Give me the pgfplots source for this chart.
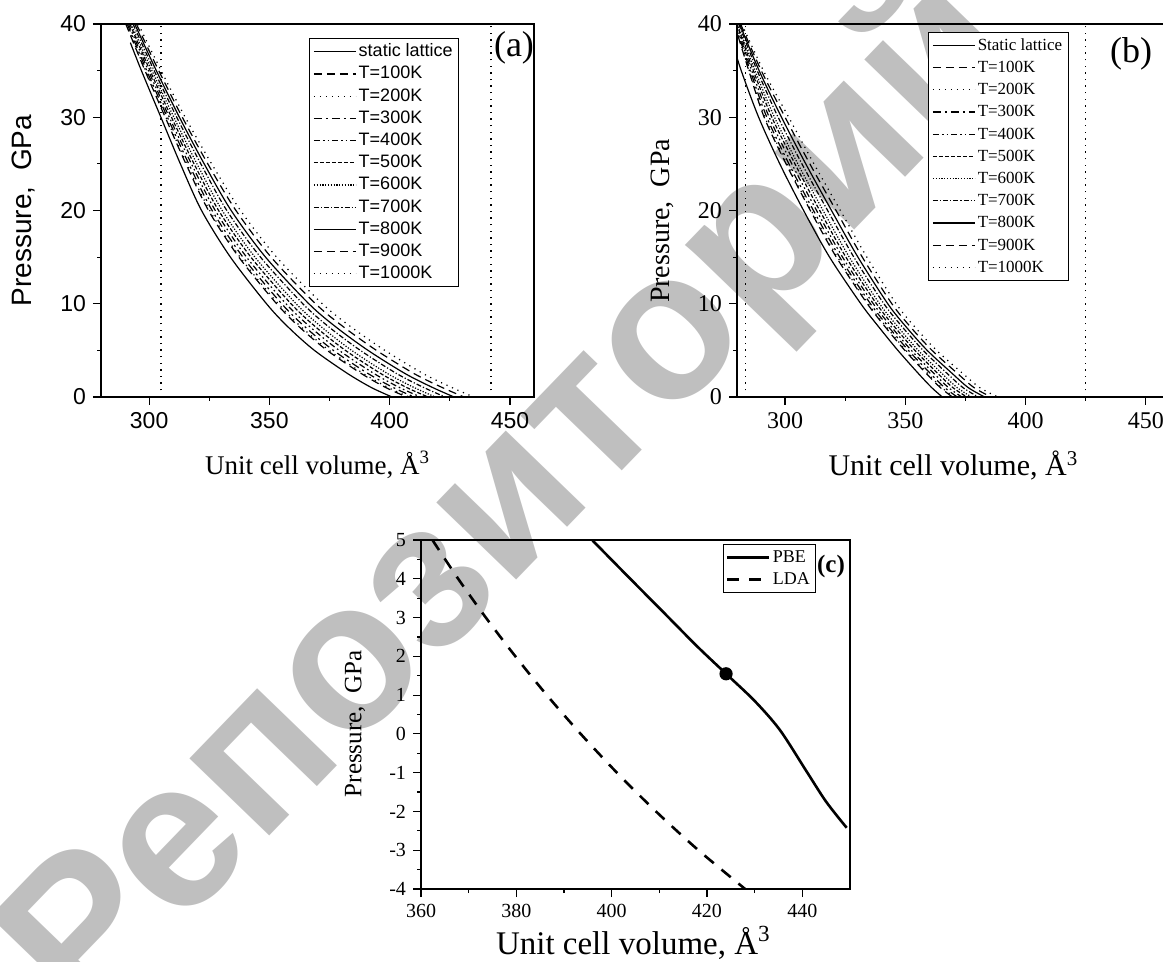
\documentclass[border=0pt]{standalone}
\usepackage{fontspec}
\setmainfont{Liberation Serif}
\newfontfamily\arial{Liberation Sans}
\usepackage{pgfplots}
\pgfplotsset{compat=1.18}
\usepackage{pgfplotstable}

% panel (a): volume of each isotherm at given pressure
\pgfplotstableread{
P   T1    T2    T3    T4    T5    T6    T7    T8    T9    T10
40  290.3 290.5 290.9 291.4 292.0 292.5 293.3 294.0 294.7 295.5
35  298.3 298.5 299.0 299.7 300.4 301.2 302.1 303.0 304.0 305.0
30  306.7 307.0 307.6 308.4 309.3 310.3 311.5 312.6 313.8 315.0
25  315.3 315.7 316.5 317.6 318.7 319.9 321.5 322.9 324.4 326.0
20  324.7 325.2 326.2 327.5 328.9 330.4 332.3 334.1 336.1 338.0
15  337.3 337.8 339.0 340.5 342.3 344.0 346.3 348.4 350.7 353.0
10  353.0 353.7 355.1 356.9 359.0 361.1 363.9 366.4 369.2 372.0
7.5 362.5 363.3 364.9 367.0 369.3 371.7 374.8 377.7 380.9 384.0
5   374.0 374.9 376.6 379.0 381.6 384.2 387.8 391.0 394.5 398.0
2.5 388.3 389.2 391.1 393.6 396.4 399.2 403.0 406.5 410.2 414.0
1   398.5 399.5 401.6 404.2 407.2 410.3 414.3 418.0 422.0 426.0
0   407.1 408.1 410.2 412.9 416.0 419.0 423.1 426.8 430.9 435.0
}\dataA

% panel (b)
\pgfplotstableread{
P   T1    T2    T3    T4    T5    T6    T7    T8    T9    T10
40  278.9 279.0 279.2 279.5 279.9 280.2 280.7 281.1 281.5 282.0
35  284.9 285.1 285.5 286.1 286.8 287.5 288.4 289.2 290.1 291.0
30  291.3 291.6 292.4 293.4 294.5 295.6 297.1 298.5 300.0 301.5
25  300.4 300.8 301.6 302.8 304.1 305.3 307.0 308.6 310.3 312.0
20  310.5 310.9 311.8 313.1 314.4 315.8 317.7 319.3 321.2 323.0
15  321.3 321.8 322.7 323.9 325.3 326.7 328.6 330.3 332.1 334.0
10  334.2 334.6 335.5 336.7 338.0 339.3 341.1 342.7 344.4 346.2
7.5 341.7 342.2 343.1 344.3 345.6 347.0 348.8 350.4 352.2 354.0
5   349.8 350.3 351.3 352.5 354.0 355.4 357.4 359.1 361.1 363.0
2.5 358.8 359.4 360.5 362.0 363.6 365.3 367.5 369.6 371.8 374.0
1   364.6 365.2 366.4 368.0 369.8 371.6 374.0 376.2 378.6 381.0
0   369.6 370.3 371.6 373.5 375.6 377.6 380.4 383.0 385.7 388.5
}\dataB

\tikzset{
  s0/.style={solid},
  s1/.style={dash pattern=on 4pt off 2.5pt},
  s2/.style={dash pattern=on 0.6pt off 2.4pt},
  s3/.style={dash pattern=on 4pt off 2pt on 1pt off 2pt},
  s4/.style={dash pattern=on 3pt off 1.5pt on 0.8pt off 1.5pt on 0.8pt off 1.5pt},
  s5/.style={dash pattern=on 2pt off 1pt},
  s6/.style={dash pattern=on 0.6pt off 0.8pt},
  s7/.style={dash pattern=on 2.5pt off 1pt on 0.6pt off 1pt},
  vdot/.style={dash pattern=on 0.7pt off 2.6pt, line width=0.8pt},
}

\pgfplotsset{
  evs/.style={
    scale only axis, anchor=south west,
    axis line style={line width=0.6pt},
    tick style={line width=0.6pt, black},
    tick align=outside, major tick length=4pt, minor tick length=2pt,
    xtick pos=left, ytick pos=left,
    minor x tick num=1, minor y tick num=1,
    /pgf/number format/assume math mode=true,
    legend cell align=left,
    legend image code/.code={\draw[##1] (0pt,0pt) -- (21pt,0pt);},
    every axis plot/.append style={line width=0.6pt, black},
    xlabel style={anchor=center},
    ylabel style={anchor=center},
  },
}

\begin{document}
\begin{tikzpicture}
\useasboundingbox (0pt,-481pt) rectangle (581.5pt,0pt);

% watermark
\node[rotate=46, anchor=base west, inner sep=0pt, text=black!25,
      font=\fontsize{105}{105}\arial\bfseries] at (42pt,-514pt) {Репозиторий};

% ---------- (a)
\begin{axis}[evs,
  at={(50.5pt,-198.5pt)}, width=216.5pt, height=186.5pt,
  xmin=280, xmax=460, ymin=0, ymax=40,
  xtick={300,350,400,450}, ytick={0,10,20,30,40},
  ticklabel style={font=\fontsize{11.5}{13}\arial},
  xlabel={Unit cell volume, Å\textsuperscript{3}},
  xlabel style={at={(axis description cs:0.5,-0.182)}, font=\fontsize{13.5}{15}\selectfont},
  ylabel={Pressure,\ \ GPa},
  ylabel style={at={(axis description cs:-0.178,0.5)}, font=\fontsize{14}{16}\arial},
  legend style={at={(axis description cs:0.48,0.962)}, anchor=north west,
    font=\fontsize{9}{10}\arial, draw=black, line width=0.5pt,
    inner xsep=2pt, inner ysep=1pt,
    nodes={inner sep=1.1pt, text height=6.9pt, text depth=2pt}},
]
\addplot[s0, smooth] coordinates {(292.2,38) (296.8,35) (304.9,30) (313.0,25) (321.8,20)
  (333.8,15) (348.8,10) (357.8,7.5) (368.7,5) (382.6,2.5) (392.5,1) (401.0,0)};
\addlegendentry{static lattice}
\addplot[s1, smooth] table[x=T1, y=P] {\dataA}; \addlegendentry{T=100K}
\addplot[s2, smooth] table[x=T2, y=P] {\dataA}; \addlegendentry{T=200K}
\addplot[s3, smooth] table[x=T3, y=P] {\dataA}; \addlegendentry{T=300K}
\addplot[s4, smooth] table[x=T4, y=P] {\dataA}; \addlegendentry{T=400K}
\addplot[s5, smooth] table[x=T5, y=P] {\dataA}; \addlegendentry{T=500K}
\addplot[s6, smooth] table[x=T6, y=P] {\dataA}; \addlegendentry{T=600K}
\addplot[s7, smooth] table[x=T7, y=P] {\dataA}; \addlegendentry{T=700K}
\addplot[s0, smooth] table[x=T8, y=P] {\dataA}; \addlegendentry{T=800K}
\addplot[s1, smooth] table[x=T9, y=P] {\dataA}; \addlegendentry{T=900K}
\addplot[s2, smooth] table[x=T10, y=P] {\dataA}; \addlegendentry{T=1000K}
\addplot[vdot, forget plot] coordinates {(305,0) (305,40)};
\addplot[vdot, forget plot] coordinates {(442,0) (442,40)};
\end{axis}

% ---------- (b)
\begin{axis}[evs,
  at={(368.5pt,-198.5pt)}, width=216.4pt, height=186.5pt,
  xmin=280, xmax=460, ymin=0, ymax=40,
  xtick={300,350,400,450}, ytick={0,10,20,30,40},
  ticklabel style={font=\fontsize{12}{14}\selectfont},
  xlabel={Unit cell volume, Å\textsuperscript{3}},
  xlabel style={at={(axis description cs:0.5,-0.185)}, font=\fontsize{15}{17}\selectfont},
  ylabel={Pressure,\ \ GPa},
  ylabel style={at={(axis description cs:-0.173,0.472)}, font=\fontsize{14}{16}\selectfont},
  legend style={at={(axis description cs:0.441,0.979)}, anchor=north west,
    font=\fontsize{8.5}{10}\selectfont, draw=black, line width=0.5pt,
    inner xsep=2pt, inner ysep=1pt,
    nodes={inner sep=1.1pt, text height=6.9pt, text depth=2pt}},
]
\addplot[s0, smooth] coordinates {(278.15,38) (281.75,35) (289.0,30) (297.8,25) (307.7,20)
  (318.5,15) (331.5,10) (339.0,7.5) (346.9,5) (355.5,2.5) (361.0,1) (365.4,0)};
\addlegendentry{Static lattice}
\addplot[s1, smooth] table[x=T1, y=P] {\dataB}; \addlegendentry{T=100K}
\addplot[s2, smooth] table[x=T2, y=P] {\dataB}; \addlegendentry{T=200K}
\addplot[s3, smooth] table[x=T3, y=P] {\dataB}; \addlegendentry{T=300K}
\addplot[s4, smooth] table[x=T4, y=P] {\dataB}; \addlegendentry{T=400K}
\addplot[s5, smooth] table[x=T5, y=P] {\dataB}; \addlegendentry{T=500K}
\addplot[s6, smooth] table[x=T6, y=P] {\dataB}; \addlegendentry{T=600K}
\addplot[s7, smooth] table[x=T7, y=P] {\dataB}; \addlegendentry{T=700K}
\addplot[s0, smooth] table[x=T8, y=P] {\dataB}; \addlegendentry{T=800K}
\addplot[s1, smooth] table[x=T9, y=P] {\dataB}; \addlegendentry{T=900K}
\addplot[s2, smooth] table[x=T10, y=P] {\dataB}; \addlegendentry{T=1000K}
\addplot[vdot, forget plot] coordinates {(283.5,0) (283.5,40)};
\addplot[vdot, forget plot] coordinates {(425,0) (425,40)};
\end{axis}

% ---------- (c)
\begin{axis}[evs,
  at={(210.5pt,-444.5pt)}, width=214.5pt, height=174.5pt,
  xmin=360, xmax=450, ymin=-4, ymax=5,
  xtick={360,380,400,420,440}, ytick={-4,-3,-2,-1,0,1,2,3,4,5},
  ticklabel style={font=\fontsize{10}{12}\selectfont},
  xlabel={Unit cell volume, Å\textsuperscript{3}},
  xlabel style={at={(axis description cs:0.495,-0.155)}, font=\fontsize{16.5}{18}\selectfont},
  ylabel={Pressure,\ \ GPa},
  ylabel style={at={(axis description cs:-0.154,0.473)}, font=\fontsize{12.5}{14}\selectfont},
  legend style={at={(axis description cs:0.703,0.989)}, anchor=north west,
    font=\fontsize{9}{10}\selectfont, draw=black, line width=0.5pt,
    inner xsep=1.5pt, inner ysep=1pt,
    nodes={inner sep=1.1pt, text height=6.9pt, text depth=2pt}},
]
\addplot[solid, line width=1.3pt, smooth] coordinates {(395.9,5) (403.5,4.05) (411.0,3.12)
  (418.0,2.25) (424.0,1.55) (430.0,0.85) (435.3,0.1) (440.8,-0.95) (445.0,-1.75) (449.3,-2.42)};
\addlegendentry{PBE}
\addplot[dash pattern=on 6pt off 5pt, line width=1.3pt, smooth] coordinates {(362.4,5) (367.8,4)
  (373.6,3) (379.8,2) (386.4,1) (393.5,0) (401.1,-1) (409.3,-2) (418.2,-3) (428.0,-4)};
\addlegendentry{LDA}
\addplot[only marks, mark=*, mark size=3pt, forget plot] coordinates {(424.0,1.55)};
\end{axis}

\node[font=\fontsize{18}{20}\selectfont] at (257pt,-24pt) {(a)};
\node[font=\fontsize{18}{20}\selectfont] at (565.5pt,-27pt) {(b)};
\node[font=\fontsize{12.5}{14}\bfseries] at (415.5pt,-283pt) {(c)};
\end{tikzpicture}
\end{document}
